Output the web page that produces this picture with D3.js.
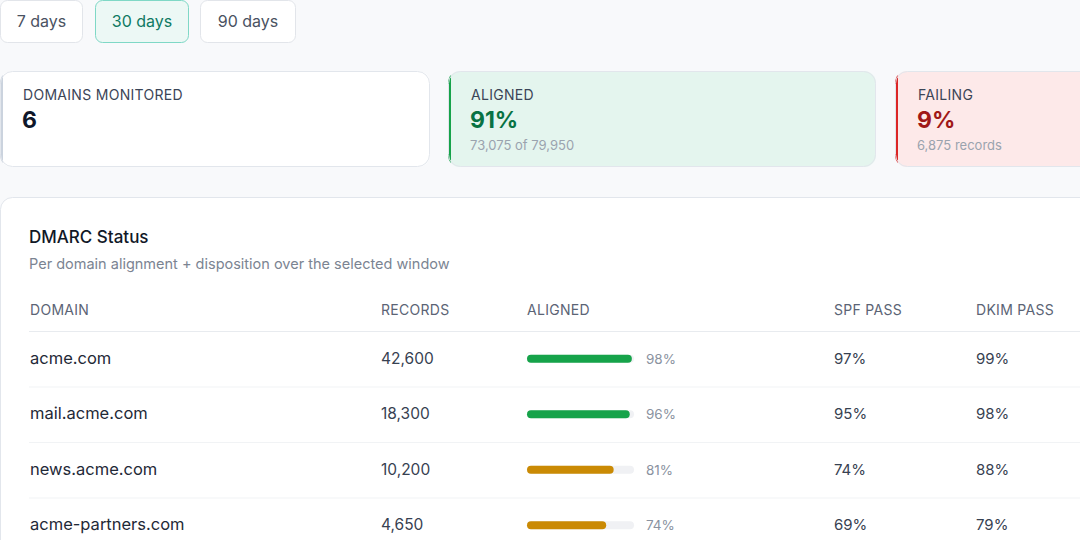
<!DOCTYPE html>
<html><head><meta charset="utf-8">
<script src="https://cdn.jsdelivr.net/npm/d3@7"></script>
<style>body{margin:0;background:#f8f9fb;overflow:hidden}svg{display:block;font-family:Inter,"Open Sans",sans-serif}</style>
</head><body><svg id="c" width="1080" height="540"></svg>
<script>
const ranges=["7 days","30 days","90 days"];
const activeRange="30 days";
const kpiLabels=["DOMAINS MONITORED","ALIGNED","FAILING"];
const kpiValues=["6","91%","9%"];
const kpiSubs=["","73,075 of 79,950","6,875 records"];
const headers=["DOMAIN","RECORDS","ALIGNED","SPF PASS","DKIM PASS"];
const domains=["acme.com","mail.acme.com","news.acme.com","acme-partners.com"];
const records=[42600,18300,10200,4650];
const aligned=[98,96,81,74];
const spf=[97,95,74,69];
const dkim=[99,98,88,79];

const svg=d3.select("#c");
const bx=[0,95,200], bw=[82,93,95];
ranges.forEach((r,i)=>{
  const a=r===activeRange;
  svg.append("rect").attr("x",bx[i]+0.5).attr("y",0.5).attr("width",bw[i]).attr("height",42).attr("rx",7)
    .attr("fill",a?"#ecf8f5":"#fff").attr("stroke",a?"#7fd8c6":"#e2e5ea");
  svg.append("text").attr("x",bx[i]+bw[i]/2+0.5).attr("y",27).attr("text-anchor","middle").attr("font-size",16)
    .attr("fill",a?"#0f7a63":"#4a5261").text(r);
});
const cx=[0,448,895], cw=[430,428,300];
const cfill=["#fff","#e4f5ee","#fde9e9"], cacc=["#cbd3de","#16a34a","#dc2626"], cval=["#0f172a","#087243","#a01818"];
kpiLabels.forEach((l,i)=>{
  const g=svg.append("g");
  g.append("clipPath").attr("id","k"+i).append("rect").attr("x",cx[i]).attr("y",71).attr("width",cw[i]).attr("height",96).attr("rx",12);
  g.append("rect").attr("x",cx[i]).attr("y",71).attr("width",cw[i]).attr("height",96).attr("rx",12).attr("fill",cfill[i]);
  g.append("rect").attr("x",cx[i]).attr("y",71).attr("width",3).attr("height",96).attr("fill",cacc[i]).attr("clip-path","url(#k"+i+")");
  g.append("rect").attr("x",cx[i]+0.5).attr("y",71.5).attr("width",cw[i]-1).attr("height",95).attr("rx",12).attr("fill","none").attr("stroke","#e2e6ec");
  g.append("text").attr("x",cx[i]+23).attr("y",100).attr("font-size",14).attr("letter-spacing",0.3).attr("fill","#3b4557").text(l);
  g.append("text").attr("x",cx[i]+22).attr("y",128).attr("font-size",23).attr("font-weight",700).attr("fill",cval[i]).text(kpiValues[i]);
  if(kpiSubs[i]) g.append("text").attr("x",cx[i]+22).attr("y",150).attr("font-size",13).attr("fill","#9aa3ae").text(kpiSubs[i]);
});
svg.append("rect").attr("x",0.5).attr("y",197.5).attr("width",1100).attr("height",400).attr("rx",12).attr("fill","#fff").attr("stroke","#e2e6ec");
svg.append("text").attr("x",29).attr("y",243).attr("font-size",17).attr("font-weight",500).attr("fill","#111827").text("DMARC Status");
svg.append("text").attr("x",29).attr("y",269).attr("font-size",14.5).attr("fill","#7b8492").text("Per domain alignment + disposition over the selected window");
const colX=[30,381,527,834,976];
headers.forEach((h,i)=>svg.append("text").attr("x",colX[i]).attr("y",315).attr("font-size",14).attr("letter-spacing",0.3).attr("fill","#5b6475").text(h));
svg.append("line").attr("x1",29).attr("x2",1080).attr("y1",331.5).attr("y2",331.5).attr("stroke","#e8ebef");
const y=d3.scaleBand().domain(domains).range([331,553]);
const bar=d3.scaleLinear().domain([0,100]).range([0,107]);
const fmt=d3.format(",");
domains.forEach((d,i)=>{
  const cy=y(d)+y.bandwidth()/2;
  if(i>0) svg.append("line").attr("x1",29).attr("x2",1080).attr("y1",y(d)+0.5).attr("y2",y(d)+0.5).attr("stroke","#f1f3f5");
  const t=(x,txt,c,s)=>svg.append("text").attr("x",x).attr("y",cy+5).attr("font-size",s||16).attr("fill",c).text(txt);
  t(30,d,"#1f2937",16.5);
  t(381,fmt(records[i]),"#374151",15.5);
  const col=aligned[i]>=90?"#16a34a":"#ca8a04";
  svg.append("rect").attr("x",527).attr("y",cy-4).attr("width",bar(100)).attr("height",8).attr("rx",4).attr("fill","#f0f1f4");
  svg.append("rect").attr("x",527).attr("y",cy-4).attr("width",bar(aligned[i])).attr("height",8).attr("rx",4).attr("fill",col);
  t(646,aligned[i]+"%","#8a92a0",13.5);
  t(834,spf[i]+"%","#374151",15);
  t(976,dkim[i]+"%","#374151",15);
});
</script></body></html>
